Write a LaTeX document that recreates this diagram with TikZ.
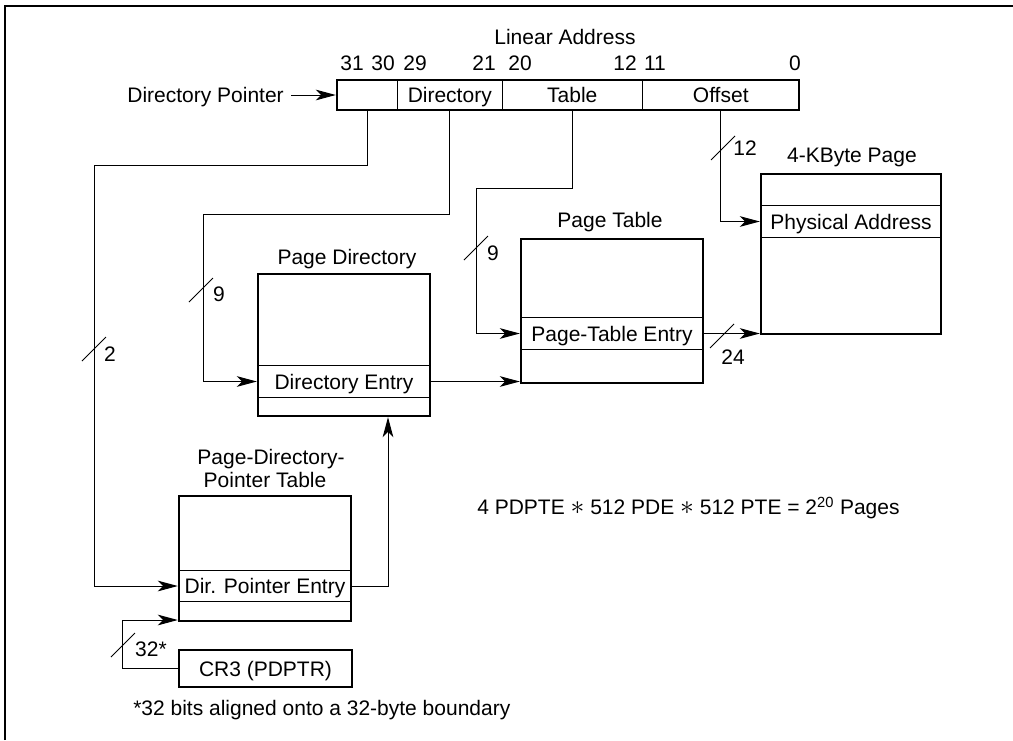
\documentclass[tikz,border=0pt]{standalone}
\usepackage{fontspec}
\setmainfont{Liberation Sans}
\usetikzlibrary{arrows.meta,calc}
\begin{document}
\begin{tikzpicture}[x=0.75pt,y=-0.75pt,
  every node/.style={font=\fontsize{15.75}{19}\selectfont, inner sep=0pt, text height=11.3pt, text depth=0pt},
  boxst/.style={draw, line width=1.8pt},
  ln/.style={line width=0.75pt},
  arr/.style={ln, -{Stealth[length=15pt,width=8pt,inset=4pt]}},
  slash/.style={line width=0.75pt}
]
\useasboundingbox (0,0) rectangle (1013,740);
\draw[line width=1.5pt] (5,740) -- (5,6) -- (1013,6);

% Linear address
\node (la) at (565,37) {Linear Address};
\node (b31) at (352,63) {31};
\node (b30) at (383,63) {30};
\node (b29) at (415,63) {29};
\node (b21) at (484,63) {21};
\node (b20) at (520,63) {20};
\node (b12) at (625,63) {12};
\node (b11) at (655,63) {11};
\node (b0)  at (795,63) {0};

\node[minimum width=45.4pt, minimum height=22.5pt] (f1) at (367.25,95) {};
\node[minimum width=78.4pt, minimum height=22.5pt] (fdir) at (449.75,95) {Directory};
\node[minimum width=105.4pt, minimum height=22.5pt] (ftab) at (572.25,95) {Table};
\node[minimum width=117.4pt, minimum height=22.5pt] (foff) at (720.75,95) {Offset};
\draw[ln] (f1.north east) -- (f1.south east)
          (fdir.north east) -- (fdir.south east)
          (ftab.north east) -- (ftab.south east);
\node[boxst, minimum width=346.5pt, minimum height=22.5pt] (lin) at (568,95) {};

\node[anchor=east] (dp) at (284,95) {Directory Pointer};
\draw[arr] ($(dp.east)+(7,0)$) -- (lin.west |- dp.east);

% 4-KByte page
\node (l4k) at (852,155) {4-KByte Page};
\node[boxst, minimum width=135pt, minimum height=120pt] (fourk) at (851,254) {};
\node[minimum width=135pt, minimum height=23.25pt] (pa) at (851,221.5) {Physical Address};
\draw[ln] (pa.north west) -- (pa.north east) (pa.south west) -- (pa.south east);

% Page table
\node (lpt) at (610,220) {Page Table};
\node[boxst, minimum width=136.5pt, minimum height=108pt] (pt) at (612,311) {};
\node[minimum width=136.5pt, minimum height=23.25pt] (pte) at (612,333.5) {Page-Table Entry};
\draw[ln] (pte.north west) -- (pte.north east) (pte.south west) -- (pte.south east);

% Page directory
\node (lpd) at (347,257) {Page Directory};
\node[boxst, minimum width=129pt, minimum height=106.5pt] (pd) at (344,345) {};
\node[minimum width=129pt, minimum height=23.25pt] (pde) at (344,381.5) {Directory Entry};
\draw[ln] (pde.north west) -- (pde.north east) (pde.south west) -- (pde.south east);

% PDPT
\node (lpdpt1) at (271,457) {Page-Directory-};
\node (lpdpt2) at (265,480) {Pointer Table};
\node[boxst, minimum width=129pt, minimum height=93.75pt] (pdpt) at (265,558.5) {};
\node[minimum width=129pt, minimum height=22.5pt] (dpe) at (265,586) {Dir. Pointer Entry};
\draw[ln] (dpe.north west) -- (dpe.north east) (dpe.south west) -- (dpe.south east);

% CR3
\node[boxst, minimum width=129.75pt, minimum height=27.75pt] (cr3) at (265.5,668.5) {CR3 (PDPTR)};

% Texts
\node[anchor=west] (eq) at (477,507) {4 PDPTE {\fontsize{20}{20}\selectfont$\ast$} 512 PDE {\fontsize{20}{20}\selectfont$\ast$} 512 PTE = 2\textsuperscript{20} Pages};
\node[anchor=west] (fn) at (133,708) {*32 bits aligned onto a 32-byte boundary};

% Connectors
\draw[arr] (f1.south) |- (94,165) |- (pdpt.west |- dpe.center);
\draw[arr] (fdir.south) |- (203,214) |- (pd.west |- pde.center);
\draw[arr] (ftab.south) |- (476,188) |- (pt.west |- pte.center);
\draw[arr] (foff.south) |- (fourk.west |- pa.center);
\coordinate (upx) at (388,0);
\draw[arr] (dpe.east) -| (pd.south -| upx);
\draw[arr] (pde.east) -- (pt.west |- pde.east);
\draw[arr] (pte.east) -- (fourk.west |- pte.east);
\coordinate (cbend) at (122,620);
\draw[arr] (cr3.west) -| (cbend) -- (pdpt.west |- cbend);

% Slashes and bit counts
\draw[slash] (82,361) -- (106,337);
\node (n2) at (110,354) {2};
\draw[slash] (189,302) -- (213,278);
\node (n9a) at (219,294) {9};
\draw[slash] (464,260) -- (488,236);
\node (n9b) at (493,253) {9};
\draw[slash] (711,160) -- (735,136);
\node (n12) at (745,148) {12};
\draw[slash] (710,348) -- (734,324);
\node (n24) at (733,357) {24};
\draw[slash] (111,657) -- (135,633);
\node (n32) at (151,649) {32*};
\end{tikzpicture}
\end{document}
